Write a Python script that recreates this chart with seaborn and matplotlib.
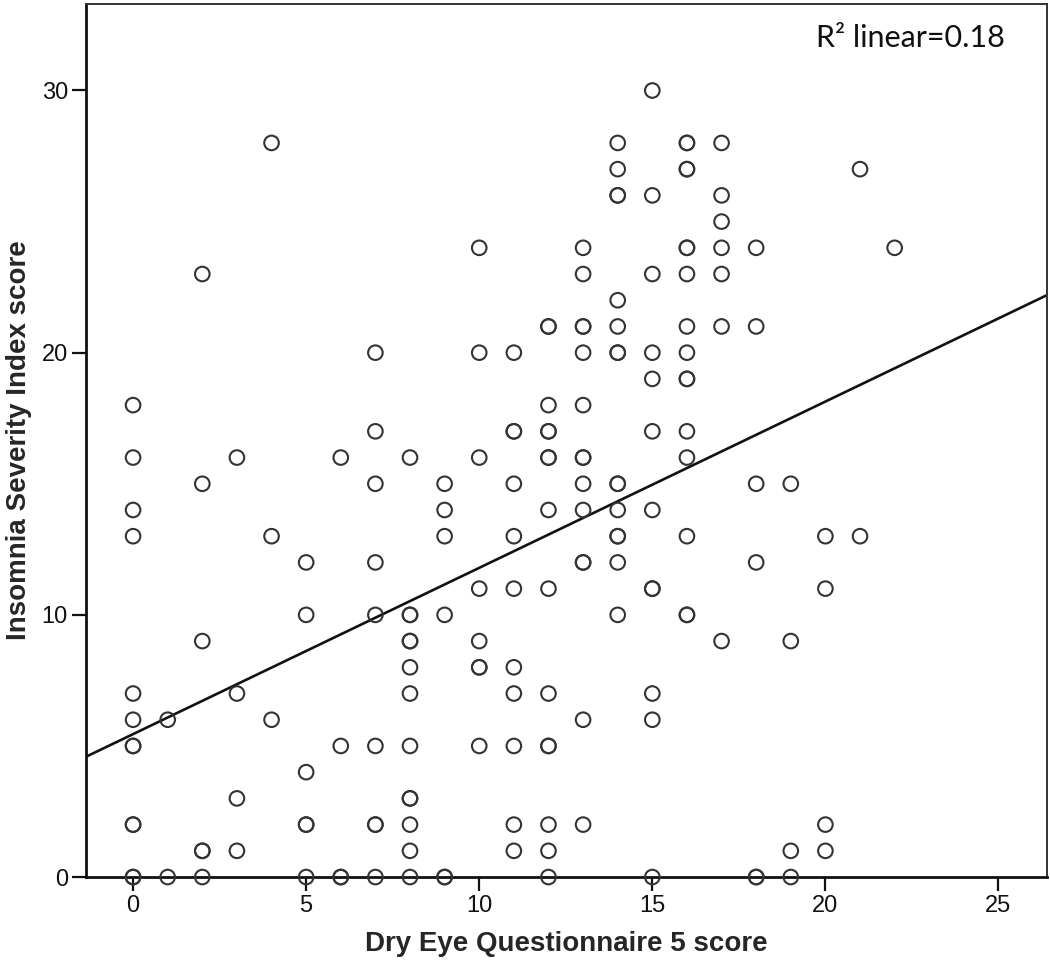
import pandas as pd
import seaborn as sns
import matplotlib.pyplot as plt

# Puntos leídos columna a columna (DEQ-5 score, ISI score); los círculos en negrita se repiten
dry_eye = (
    [0] * 12 + [1] * 2 + [2] * 6 + [3] * 4 + [4] * 3 + [5] * 6 + [6] * 4 + [7] * 9
    + [8] * 13 + [9] * 6 + [10] * 8 + [11] * 11 + [12] * 15 + [13] * 14 + [14] * 15
    + [15] * 12 + [16] * 16 + [17] * 7 + [18] * 6 + [19] * 4 + [20] * 4 + [21] * 2 + [22] * 1
)
insomnia = [
    18, 16, 14, 13, 7, 6, 5, 5, 2, 2, 0, 0,                      # 0
    6, 0,                                                         # 1
    23, 15, 9, 1, 1, 0,                                           # 2
    16, 7, 3, 1,                                                  # 3
    28, 13, 6,                                                    # 4
    12, 10, 4, 2, 2, 0,                                           # 5
    16, 5, 0, 0,                                                  # 6
    20, 17, 15, 12, 10, 5, 2, 2, 0,                               # 7
    16, 10, 10, 9, 9, 8, 7, 5, 3, 3, 2, 1, 0,                     # 8
    15, 14, 13, 10, 0, 0,                                         # 9
    24, 20, 16, 11, 9, 8, 8, 5,                                   # 10
    20, 17, 17, 15, 13, 11, 8, 7, 5, 2, 1,                        # 11
    21, 21, 18, 17, 17, 16, 16, 14, 11, 7, 5, 5, 2, 1, 0,         # 12
    24, 23, 21, 21, 20, 18, 16, 16, 15, 14, 12, 12, 6, 2,         # 13
    28, 27, 26, 26, 22, 21, 20, 20, 15, 15, 14, 13, 13, 12, 10,   # 14
    30, 26, 23, 20, 19, 17, 14, 11, 11, 7, 6, 0,                  # 15
    28, 28, 27, 27, 24, 24, 23, 21, 20, 19, 19, 17, 16, 13, 10, 10,  # 16
    28, 26, 25, 24, 23, 21, 9,                                    # 17
    24, 21, 15, 12, 0, 0,                                         # 18
    15, 9, 1, 0,                                                  # 19
    13, 11, 2, 1,                                                 # 20
    27, 13,                                                       # 21
    24,                                                           # 22
]
x_ticks = [0, 5, 10, 15, 20, 25]
y_ticks = [0, 10, 20, 30]
r2_text = "R\u00b2 linear=0.18"

df = pd.DataFrame({"deq5": dry_eye, "isi": insomnia})

sns.set_theme(style="ticks")
plt.rcParams["font.family"] = ["Liberation Sans", "DejaVu Sans"]

fig = plt.figure(figsize=(10.5, 9.69), dpi=100)
ax = fig.add_axes([0.0819, 0.0949, 0.9152, 0.9010])
ax.set_xlim(-1.36, 26.4)
ax.set_ylim(0, 33.3)

# Nube de puntos: círculos vacíos
sns.scatterplot(data=df, x="deq5", y="isi", ax=ax, marker="o", s=110,
                facecolor="none", edgecolor="#333333", linewidth=1.5,
                clip_on=False, zorder=3)

# Recta de regresión lineal a todo el ancho del eje
sns.regplot(data=df, x="deq5", y="isi", ax=ax, scatter=False, ci=None,
            truncate=False, line_kws={"color": "#111111", "linewidth": 1.9})
ax.set_xlim(-1.36, 26.4)
ax.set_ylim(0, 33.3)

ax.set_xticks(x_ticks)
ax.set_yticks(y_ticks)
ax.tick_params(axis="both", direction="out", length=10, width=1.6,
               labelsize=17, colors="#111111", pad=3)

for side in ["left", "bottom"]:
    ax.spines[side].set_linewidth(2.0)
    ax.spines[side].set_color("#111111")
for side in ["top", "right"]:
    ax.spines[side].set_visible(True)
    ax.spines[side].set_linewidth(1.4)
    ax.spines[side].set_color("#333333")

ax.set_xlabel("Dry Eye Questionnaire 5 score", fontsize=20, fontweight="bold", labelpad=10)
ax.set_ylabel("Insomnia Severity Index score", fontsize=20, fontweight="bold", labelpad=7)

ax.text(0.956, 0.961, r2_text, transform=ax.transAxes, ha="right", va="center",
        fontsize=22, family=["Lato", "DejaVu Sans"], color="#111111")

fig.savefig("out.png", dpi=100)
